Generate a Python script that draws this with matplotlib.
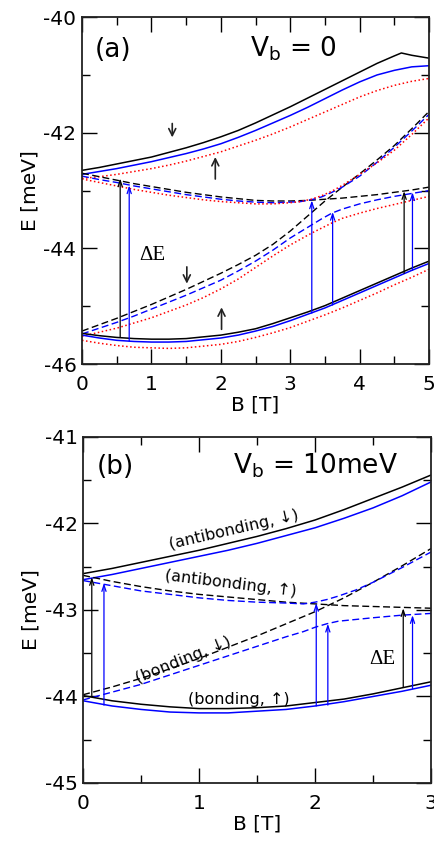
import matplotlib
matplotlib.use("Agg")
import matplotlib.pyplot as plt
from matplotlib.ticker import MultipleLocator

plt.rcParams["font.family"] = ["DejaVu Sans"]
plt.rcParams["axes.unicode_minus"] = False

BLUE = "#0000ff"
RED = "#ff0000"

# ---- panel (a): Vb = 0 ----
a_B = [0, 0.25, 0.5, 0.75, 1, 1.25, 1.5, 1.75, 2, 2.25, 2.5, 2.75, 3,
       3.25, 3.5, 3.75, 4, 4.25, 4.5, 4.75, 5]
a_top_black_B = [0, 0.25, 0.5, 0.75, 1, 1.25, 1.5, 1.75, 2, 2.25, 2.5, 2.75, 3,
                 3.25, 3.5, 3.75, 4, 4.25, 4.5, 4.6, 4.75, 5]
a_top_black = [-42.65, -42.60, -42.54, -42.48, -42.42, -42.34, -42.26, -42.17,
               -42.07, -41.96, -41.83, -41.69, -41.55, -41.40, -41.25, -41.10,
               -40.95, -40.80, -40.67, -40.62, -40.66, -40.71]
a_top_blue = [-42.72, -42.67, -42.62, -42.56, -42.50, -42.43, -42.36, -42.28,
              -42.19, -42.08, -41.96, -41.83, -41.70, -41.56, -41.41, -41.26,
              -41.12, -41.00, -40.92, -40.86, -40.84]
a_top_red = [-42.79, -42.76, -42.72, -42.67, -42.62, -42.56, -42.49, -42.41,
             -42.33, -42.23, -42.13, -42.02, -41.90, -41.77, -41.64, -41.51,
             -41.38, -41.27, -41.18, -41.11, -41.06]
a_abup_black = [-42.70, -42.76, -42.82, -42.88, -42.93, -42.98, -43.03, -43.07,
                -43.11, -43.14, -43.17, -43.18, -43.18, -43.17, -43.15, -43.13,
                -43.10, -43.07, -43.03, -42.99, -42.94]
a_bdn_black = [-45.43, -45.32, -45.21, -45.09, -44.97, -44.84, -44.71, -44.57,
               -44.43, -44.28, -44.12, -43.93, -43.70, -43.44, -43.18, -42.94,
               -42.71, -42.47, -42.22, -41.93, -41.63]
a_mid_B = [0, 0.25, 0.5, 0.75, 1, 1.25, 1.5, 1.75, 2, 2.25, 2.5, 2.75, 3,
           3.15, 3.3, 3.45, 3.6, 3.75, 4, 4.25, 4.5, 4.75, 5]
a_up_blue = [-42.75, -42.81, -42.86, -42.92, -42.97, -43.02, -43.07, -43.11,
             -43.15, -43.18, -43.20, -43.21, -43.20, -43.19, -43.16, -43.11,
             -43.03, -42.94, -42.75, -42.51, -42.25, -41.97, -41.68]
a_lo_blue = [-45.48, -45.38, -45.28, -45.17, -45.05, -44.93, -44.81, -44.68,
             -44.55, -44.39, -44.22, -44.03, -43.82, -43.71, -43.60, -43.49,
             -43.39, -43.32, -43.23, -43.16, -43.10, -43.05, -43.00]
a_up_red = [-42.80, -42.86, -42.92, -42.98, -43.03, -43.08, -43.12, -43.16,
            -43.19, -43.21, -43.23, -43.23, -43.21, -43.19, -43.15, -43.09,
            -43.01, -42.91, -42.72, -42.52, -42.30, -42.03, -41.74]
a_lo_red = [-45.52, -45.45, -45.38, -45.29, -45.20, -45.09, -44.98, -44.85,
            -44.70, -44.53, -44.33, -44.13, -43.94, -43.84, -43.74, -43.65,
            -43.56, -43.48, -43.39, -43.31, -43.24, -43.17, -43.10]
a_bot_black = [-45.47, -45.51, -45.54, -45.56, -45.57, -45.57, -45.56, -45.53,
               -45.50, -45.45, -45.39, -45.30, -45.20, -45.10, -44.99, -44.86,
               -44.73, -44.60, -44.47, -44.34, -44.22]
a_bot_blue = [-45.50, -45.55, -45.59, -45.61, -45.62, -45.62, -45.61, -45.58,
              -45.55, -45.50, -45.43, -45.35, -45.25, -45.14, -45.03, -44.90,
              -44.77, -44.64, -44.51, -44.38, -44.26]
a_bot_red = [-45.59, -45.64, -45.68, -45.71, -45.72, -45.73, -45.72, -45.69,
             -45.66, -45.61, -45.54, -45.46, -45.37, -45.26, -45.15, -45.03,
             -44.90, -44.77, -44.63, -44.50, -44.36]
# transitions: (B, E_from, E_to, colour)
a_arrows = [(0.55, -45.54, -42.79, "k"), (0.68, -45.60, -42.91, BLUE),
            (3.31, -45.12, -43.17, BLUE), (3.61, -44.98, -43.37, BLUE),
            (4.64, -44.43, -43.01, "k"), (4.76, -44.38, -43.03, BLUE)]
# spin markers: (B, E_tail, E_head)
a_spins = [(1.30, -41.84, -42.08), (1.92, -42.80, -42.42),
           (1.51, -44.32, -44.61), (2.01, -45.40, -45.02)]

# ---- panel (b): Vb = 10 meV ----
b_B = [0, 0.25, 0.5, 0.75, 1, 1.25, 1.5, 1.75, 2, 2.25, 2.5, 2.75, 3]
b_top_black = [-42.58, -42.52, -42.45, -42.38, -42.31, -42.23, -42.15, -42.06,
               -41.96, -41.84, -41.71, -41.58, -41.44]
b_top_blue = [-42.65, -42.59, -42.52, -42.45, -42.38, -42.31, -42.23, -42.14,
              -42.05, -41.94, -41.82, -41.68, -41.52]
b_abup_black = [-42.60, -42.67, -42.73, -42.78, -42.82, -42.85, -42.88, -42.91,
                -42.93, -42.95, -42.96, -42.97, -42.98]
b_bdn_black = [-43.98, -43.89, -43.79, -43.68, -43.56, -43.43, -43.30, -43.16,
               -43.02, -42.86, -42.68, -42.49, -42.29]
b_mid_B = [0, 0.25, 0.5, 0.75, 1, 1.25, 1.5, 1.75, 1.9, 2.0, 2.1, 2.2, 2.35,
           2.5, 2.75, 3]
b_up_blue = [-42.66, -42.72, -42.78, -42.82, -42.86, -42.89, -42.91, -42.92,
             -42.93, -42.91, -42.88, -42.84, -42.77, -42.68, -42.51, -42.33]
b_lo_blue = [-44.04, -43.95, -43.86, -43.75, -43.64, -43.53, -43.42, -43.31,
             -43.25, -43.20, -43.16, -43.13, -43.11, -43.09, -43.06, -43.04]
b_bot_black = [-43.99, -44.05, -44.09, -44.12, -44.14, -44.14, -44.13, -44.11,
               -44.07, -44.03, -43.97, -43.90, -43.83]
b_bot_blue = [-44.05, -44.11, -44.15, -44.18, -44.19, -44.19, -44.17, -44.15,
              -44.11, -44.06, -44.00, -43.94, -43.87]
b_arrows = [(0.075, -43.99, -42.62, "k"), (0.18, -44.10, -42.69, BLUE),
            (2.01, -44.11, -42.92, BLUE), (2.11, -44.10, -43.16, BLUE),
            (2.76, -43.89, -42.98, "k"), (2.84, -43.91, -43.06, BLUE)]
b_state_labels = ["(antibonding, ↓)", "(antibonding, ↑)", "(bonding, ↓)", "(bonding, ↑)"]
b_label_pos = [(1.30, -42.07, 13), (1.27, -42.69, -7), (0.86, -43.58, 22), (1.34, -44.03, 0)]

DASH = (0, (5, 2.5))
FS = 14.5


def draw_arrows(ax, arrows):
    for b, e0, e1, c in arrows:
        ax.annotate("", xy=(b, e1), xytext=(b, e0),
                    arrowprops=dict(arrowstyle="->,head_length=0.45,head_width=0.15",
                                    color=c, lw=0.9, shrinkA=0, shrinkB=0))


def style_axes(ax):
    ax.tick_params(which="both", direction="in", top=True, right=True,
                   labelsize=FS)
    ax.tick_params(axis="x", pad=8)
    ax.tick_params(axis="y", pad=4)
    ax.tick_params(which="major", length=11, width=1)
    ax.tick_params(which="minor", length=6, width=1)
    for s in ax.spines.values():
        s.set_linewidth(1.3)
        s.set_color("#222222")


fig = plt.figure(figsize=(4.35, 8.44), dpi=100)

# panel (a)
ax = fig.add_axes([0.1885, 0.5687, 0.798, 0.411])
ax.plot(a_top_black_B, a_top_black, color="k", lw=1.1)
ax.plot(a_B, a_top_blue, color=BLUE, lw=1.1)
ax.plot(a_B, a_top_red, color=RED, lw=1.1, ls=":")
ax.plot(a_B, a_abup_black, color="k", lw=1.0, ls=DASH)
ax.plot(a_B, a_bdn_black, color="k", lw=1.0, ls=DASH)
ax.plot(a_mid_B, a_up_blue, color=BLUE, lw=1.0, ls=DASH)
ax.plot(a_mid_B, a_lo_blue, color=BLUE, lw=1.0, ls=DASH)
ax.plot(a_mid_B, a_up_red, color=RED, lw=1.1, ls=":")
ax.plot(a_mid_B, a_lo_red, color=RED, lw=1.1, ls=":")
ax.plot(a_B, a_bot_black, color="k", lw=1.1)
ax.plot(a_B, a_bot_blue, color=BLUE, lw=1.1)
ax.plot(a_B, a_bot_red, color=RED, lw=1.1, ls=":")
draw_arrows(ax, a_arrows)
for b, e0, e1 in a_spins:
    ax.annotate("", xy=(b, e1), xytext=(b, e0),
                arrowprops=dict(arrowstyle="->,head_length=0.5,head_width=0.25",
                                color="#222222", lw=1.2, shrinkA=0, shrinkB=0))
ax.set_xlim(0, 5)
ax.set_ylim(-46, -40)
ax.xaxis.set_major_locator(MultipleLocator(1))
ax.xaxis.set_minor_locator(MultipleLocator(0.5))
ax.yaxis.set_major_locator(MultipleLocator(2))
ax.yaxis.set_minor_locator(MultipleLocator(1))
style_axes(ax)
ax.set_xlabel("B [T]", fontsize=FS, labelpad=1)
ax.set_ylabel("E [meV]", fontsize=FS, labelpad=3)
ax.text(0.19, -40.57, "(a)", fontsize=19, ha="left", va="center")
ax.text(2.42, -40.55, "V$_\\mathregular{b}$ = 0", fontsize=19, ha="left", va="center")
ax.text(1.02, -44.12, "ΔE", fontsize=15, ha="center", va="center", family="Liberation Serif")

# panel (b)
bx = fig.add_axes([0.191, 0.0723, 0.8, 0.41])
bx.plot(b_B, b_top_black, color="k", lw=1.1)
bx.plot(b_B, b_top_blue, color=BLUE, lw=1.1)
bx.plot(b_B, b_abup_black, color="k", lw=1.0, ls=DASH)
bx.plot(b_B, b_bdn_black, color="k", lw=1.0, ls=DASH)
bx.plot(b_mid_B, b_up_blue, color=BLUE, lw=1.0, ls=DASH)
bx.plot(b_mid_B, b_lo_blue, color=BLUE, lw=1.0, ls=DASH)
bx.plot(b_B, b_bot_black, color="k", lw=1.1)
bx.plot(b_B, b_bot_blue, color=BLUE, lw=1.1)
draw_arrows(bx, b_arrows)
bx.set_xlim(0, 3)
bx.set_ylim(-45, -41)
bx.xaxis.set_major_locator(MultipleLocator(1))
bx.xaxis.set_minor_locator(MultipleLocator(0.5))
bx.yaxis.set_major_locator(MultipleLocator(1))
bx.yaxis.set_minor_locator(MultipleLocator(0.5))
style_axes(bx)
bx.set_xlabel("B [T]", fontsize=FS, labelpad=1)
bx.set_ylabel("E [meV]", fontsize=FS, labelpad=3)
bx.text(0.12, -41.35, "(b)", fontsize=19, ha="left", va="center")
bx.text(1.29, -41.33, "V$_\\mathregular{b}$ = 10meV", fontsize=19, ha="left", va="center")
for lab, (b, e, rot) in zip(b_state_labels, b_label_pos):
    bx.text(b, e, lab, fontsize=11.5, ha="center", va="center", rotation=rot,
            rotation_mode="anchor")
bx.text(2.58, -43.57, "ΔE", fontsize=15, ha="center", va="center", family="Liberation Serif")

fig.savefig("out.png", dpi=100)
